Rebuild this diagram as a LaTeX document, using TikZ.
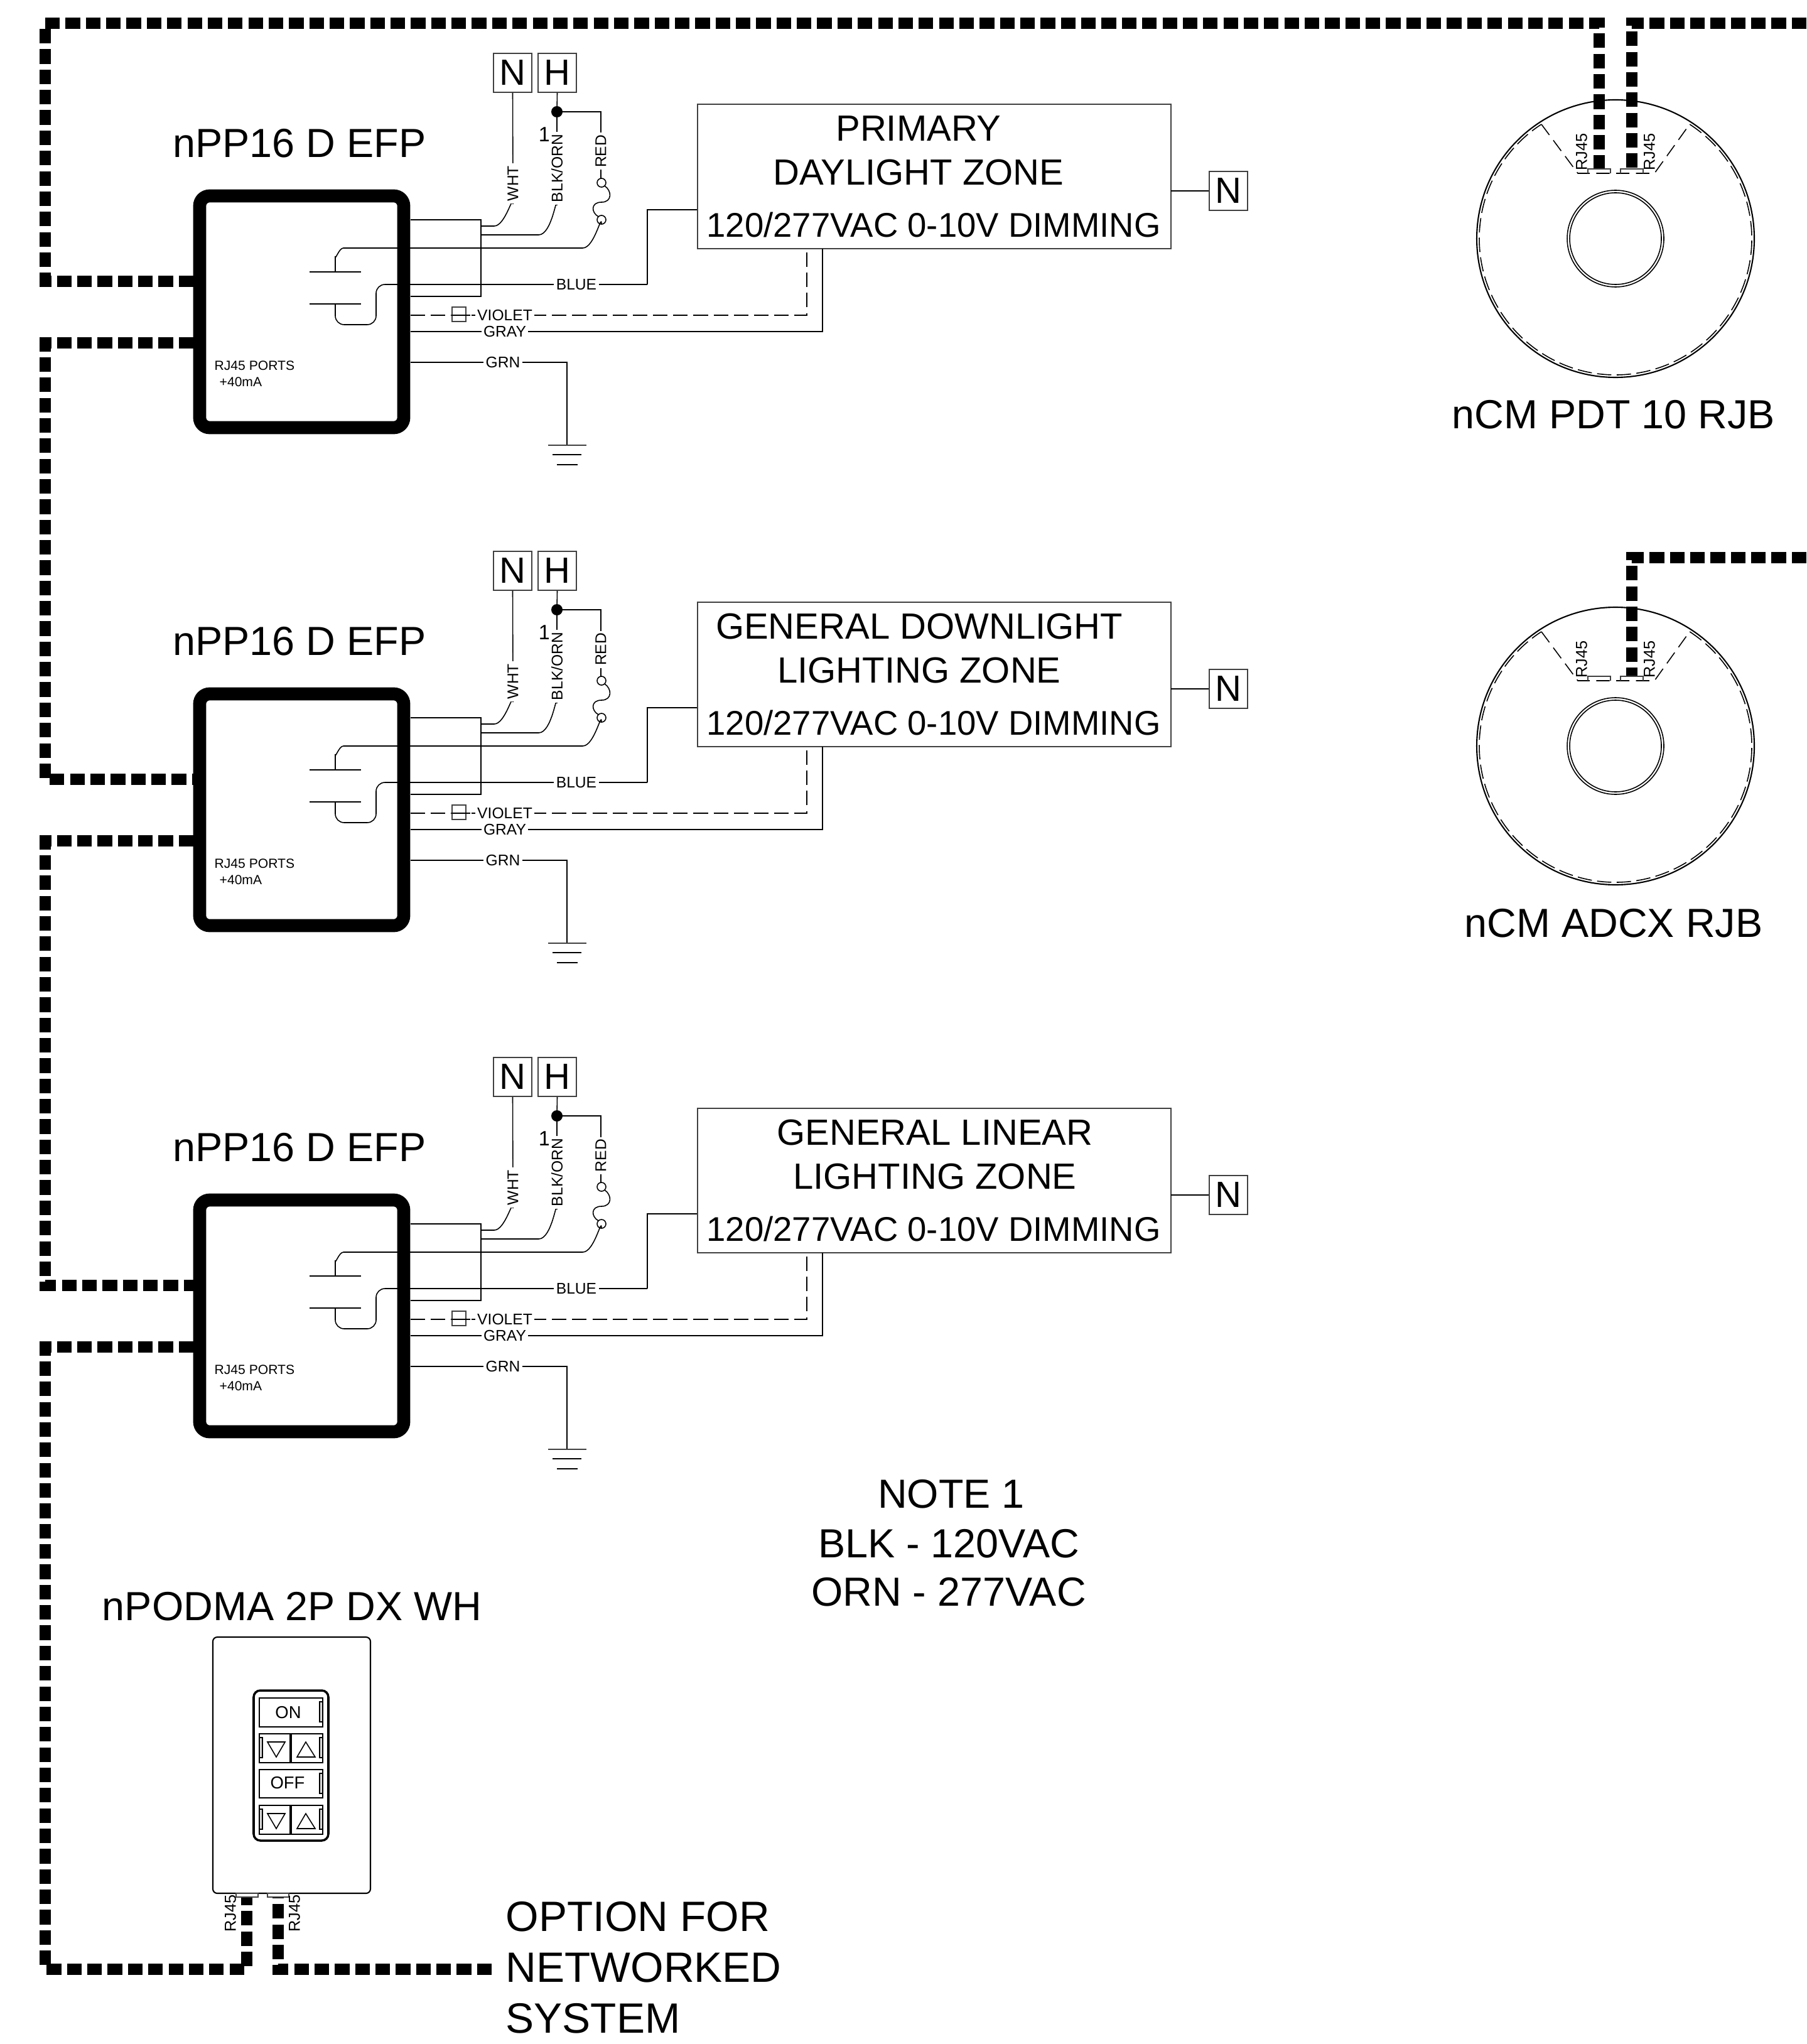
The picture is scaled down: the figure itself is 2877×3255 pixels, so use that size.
\documentclass[tikz,border=0pt]{standalone}
\usepackage{fontspec}
\setmainfont{Liberation Sans}
\tikzset{
    wire/.style={line width=0.45pt, black},
    dashwire/.style={wire, dash pattern=on 6.55pt off 2.6pt},
    datawire/.style={line width=5.1pt, black, dash pattern=on 6.6pt off 2.6pt},
    boxline/.style={line width=0.55pt, black!75},
    tag/.style={draw=black!75, line width=0.55pt, minimum width=61\pxu, minimum height=62\pxu, inner sep=0pt, font=\fontsize{16.5}{16.5}\selectfont},
    title/.style={inner sep=0pt, font=\fontsize{18.4}{18.4}\selectfont},
    bigtext/.style={inner sep=0pt, anchor=west, font=\fontsize{19.2}{19.2}\selectfont},
    zonetext/.style={inner sep=0pt, font=\fontsize{16.5}{16.5}\selectfont},
    dimtext/.style={inner sep=0pt, font=\fontsize{15.5}{15.5}\selectfont},
    wiretext/.style={fill=white, inner sep=1pt, font=\fontsize{7}{7}\selectfont},
    porttext/.style={inner sep=0pt, anchor=west, font=\fontsize{6}{6}\selectfont},
    jacktext/.style={inner sep=0pt, rotate=90, font=\fontsize{7.2}{7.2}\selectfont},
    keytext/.style={inner sep=0pt, font=\fontsize{7.8}{7.8}\selectfont},
}
\newcommand{\pxu}{*0.2845pt}
\begin{document}
\begin{tikzpicture}[x=0.01cm, y=-0.01cm]
    \useasboundingbox (0,0) rectangle (2877,3255);
    %Power packs
    \foreach \offs/\nm/\zoneone/\zonetwo/\zonex in {0/a/PRIMARY/DAYLIGHT ZONE/1463, 793/b/GENERAL DOWNLIGHT/LIGHTING ZONE/1464, 1599/c/GENERAL LINEAR/LIGHTING ZONE/1489}{
    \begin{scope}[yshift=-\offs*0.01cm]
        \node[title] (title\nm) at (477,228) {nPP16 D EFP};
        \draw[line width=5.9pt, rounded corners=4.5pt] (318,312) rectangle (643,681);
        \node[porttext] (port\nm) at (341,582) {RJ45 PORTS};
        \node[porttext] (plus\nm) at (349,608) {+40mA};
        %Supply tags
        \node[tag] (n\nm) at (816.5,116) {N};
        \node[tag] (h\nm) at (887.5,116) {H};
        \coordinate (dot\nm) at (887,178);
        \fill (dot\nm) ellipse (9 and 9);
        \node[inner sep=0pt, font=\fontsize{9.4}{9.4}\selectfont] (one\nm) at (867,214) {1};
        %Junction box
        \draw[line width=0.6pt] (654,350) -- (766,350) -- (766,472) -- (654,472);
        %Wires
        \draw[wire] (n\nm.south) -- (817,325) to[out=90, in=0, looseness=1] (787,360) -- (766,360);
        \draw[wire] (h\nm.south) -- (dot\nm) -- (887,327) to[out=90, in=0, looseness=1] (858,374) -- (766,374);
        \draw[wire] (dot\nm) -- (957,178) -- (957,284);
        \node[wiretext, rotate=90] (wht\nm) at (817,292) {WHT};
        \node[wiretext, rotate=90] (blk\nm) at (887,268) {BLK/ORN};
        \node[wiretext, rotate=90] (red\nm) at (957,241) {RED};
        %Fuse
        \draw[wire] (958,291) circle (7);
        \draw[wire] (958,350) circle (7);
        \draw[wire] (963,296) .. controls (975,304) and (975,322) .. (958,322) .. controls (941,322) and (941,338) .. (953,345);
        \draw[wire] (958,357) to[out=90, in=0, looseness=1] (928,395) -- (547,395) to[out=180, in=-90, looseness=1] (534,408) -- (534,433);
        %Capacitor
        \draw[wire] (493,433) -- (575,433);
        \draw[wire] (493,484) -- (575,484);
        \draw[wire, rounded corners=4pt] (534,484) -- (534,517) -- (599,517) -- (599,453) -- (1031,453);
        \draw[wire] (1031,453) -- (1031,334) -- (1111,334);
        \node[wiretext] (blue\nm) at (918,453) {BLUE};
        %Zone box
        \draw[boxline] (1111,166) rectangle (1865,396);
        \node[zonetext] (zonea\nm) at (\zonex,205) {\zoneone};
        \node[zonetext] (zoneb\nm) at (\zonex,275) {\zonetwo};
        \node[dimtext] (dim\nm) at (1487,358) {120/277VAC 0-10V DIMMING};
        \node[tag] (nz\nm) at (1956.5,304) {N};
        \draw[wire] (1865,304) -- (nz\nm.west);
        %Violet, gray, green
        \draw[dashwire] (654,502) -- (1285,502) -- (1285,396);
        \draw[wire] (654,528) -- (1310,528) -- (1310,396);
        \draw[wire] (654,577) -- (903,577) -- (903,709);
        \node[wiretext] (vio\nm) at (804,502) {VIOLET};
        \node[wiretext] (gry\nm) at (804,528) {GRAY};
        \node[wiretext] (grn\nm) at (801,577) {GRN};
        \draw[boxline, fill=white] (720,489) rectangle (742,512);
        \draw[wire] (720,502) -- (749,502);
        %Ground
        \draw[boxline, line width=0.7pt] (873,709) -- (934,709);
        \draw[wire] (880,724) -- (926,724);
        \draw[wire] (887,740) -- (920,740);
    \end{scope}
    }
    %Wall station
    \node[title] (podtitle) at (465,2558) {nPODMA 2P DX WH};
    \draw[wire, line width=0.6pt, rounded corners=2pt] (339,2607) rectangle (590,3015);
    \draw[line width=1pt, rounded corners=3pt] (404,2692) rectangle (523,2931);
    \draw[line width=0.7pt] (413,2704) rectangle (514,2750);
    \draw[line width=0.7pt] (413,2761) rectangle (514,2807);
    \draw[line width=0.7pt] (413,2818) rectangle (514,2863);
    \draw[line width=0.7pt] (413,2875) rectangle (514,2921);
    \draw[line width=0.9pt] (463,2761) -- (463,2807);
    \draw[line width=0.9pt] (463,2875) -- (463,2921);
    \foreach \ytop in {2710,2824}{
        \draw[wire, fill=black!15] (509,\ytop) rectangle (514,\ytop+32);
    }
    \foreach \ytop in {2767,2881}{
        \draw[wire, fill=black!15] (509,\ytop) rectangle (514,\ytop+32);
        \draw[wire, fill=black!15] (413,\ytop) rectangle (418,\ytop+32);
        \draw[wire] (426,\ytop+7) -- (454,\ytop+7) -- (440,\ytop+31) -- cycle;
        \draw[wire] (473,\ytop+31) -- (502,\ytop+31) -- (487,\ytop+7) -- cycle;
    }
    \node[keytext] (keyon) at (459,2727) {ON};
    \node[keytext] (keyoff) at (458,2839) {OFF};
    %Data wiring
    \draw[datawire] (308,448) -- (72,448) -- (72,37) -- (2547,37) -- (2547,269);
    \draw[datawire] (2877,37) -- (2599,37) -- (2599,269);
    \draw[datawire] (308,546) -- (72,546) -- (72,1241) -- (308,1241);
    \draw[datawire] (308,1339) -- (72,1339) -- (72,2047) -- (308,2047);
    \draw[datawire] (308,2145) -- (72,2145) -- (72,3136) -- (393,3136) -- (393,3021);
    \draw[datawire] (783,3136) -- (443,3136) -- (443,3021);
    \draw[datawire] (2877,888) -- (2599,888) -- (2599,1077);
    %Wall station jacks
    \draw[boxline, fill=white] (376,3015) rectangle (411,3021);
    \draw[boxline, fill=white] (426,3015) rectangle (460,3021);
    \node[jacktext] (jackl) at (367,3047) {RJ45};
    \node[jacktext] (jackr) at (469,3047) {RJ45};
    %Sensors
    \foreach \cy/\nm in {380/p, 1188/q}{
    \begin{scope}[yshift=-\cy*0.01cm]
        \coordinate (ctr\nm) at (2573,0);
        \draw[wire, line width=0.6pt] (ctr\nm) circle (221);
        \draw[wire] (ctr\nm) circle (77);
        \draw[wire] (ctr\nm) circle (73);
        \draw[wire, dash pattern=on 6.5pt off 2.4pt] (ctr\nm) ++(-57:217) arc[start angle=-57, end angle=237, radius=217];
        \draw[wire, dash pattern=on 6pt off 3pt] (2455,-182) -- (2513,-104) -- (2635,-104) -- (2691,-182);
        \draw[boxline] (2529,-104) -- (2529,-111) -- (2565,-111) -- (2565,-104);
        \draw[boxline] (2581,-104) -- (2581,-111) -- (2617,-111) -- (2617,-104);
        \node[jacktext] (jacka\nm) at (2519,-138) {RJ45};
        \node[jacktext] (jackb\nm) at (2627,-138) {RJ45};
    \end{scope}
    }
    \node[title] (pdt) at (2570,660) {nCM PDT 10 RJB};
    \node[title] (adcx) at (2570,1470) {nCM ADCX RJB};
    %Notes
    \node[title] (note) at (1515,2379) {NOTE 1};
    \node[title] (noteblk) at (1511,2458) {BLK - 120VAC};
    \node[title] (noteorn) at (1511,2535) {ORN - 277VAC};
    \node[bigtext] (opt) at (805,3052) {OPTION FOR};
    \node[bigtext] (net) at (805,3133) {NETWORKED};
    \node[bigtext] (sys) at (805,3214) {SYSTEM};
\end{tikzpicture}
\end{document}
